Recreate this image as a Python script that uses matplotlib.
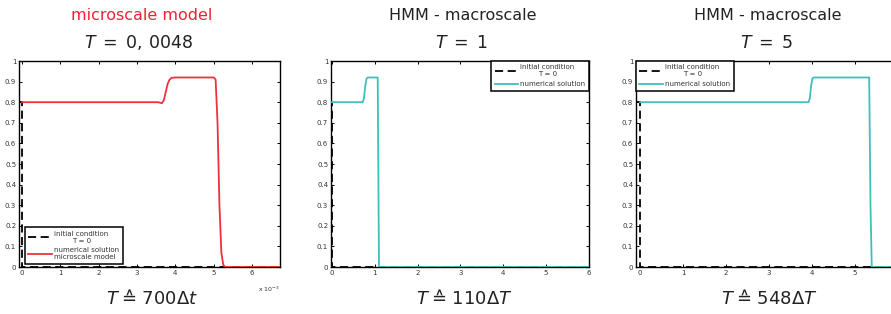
import matplotlib
matplotlib.use("Agg")
import matplotlib.pyplot as plt
from matplotlib.ticker import ScalarFormatter, FixedLocator

plt.rcParams['font.family'] = ['DejaVu Sans']
plt.rcParams['mathtext.fontset'] = 'dejavusans'

# ---------------- data ----------------
# Panel 1: microscale model (x in true units, ~1e-3)
init1_x = [-0.0001, 0.0, 0.0, 0.0068]
init1_y = [0.8, 0.8, 0.0, 0.0]
micro_x = [0.0, 0.00355, 0.00365, 0.0037, 0.00375, 0.0038, 0.00385, 0.0039, 0.0040,
           0.0050, 0.00505, 0.0051, 0.00515, 0.0052, 0.00525, 0.0053, 0.0068]
micro_y = [0.8, 0.8, 0.795, 0.81, 0.85, 0.89, 0.91, 0.918, 0.92,
           0.92, 0.91, 0.70, 0.30, 0.07, 0.01, 0.0, 0.0]

# Panel 2: HMM macroscale, T = 1
init2_x = [-0.1, 0.0, 0.0, 6.0]
init2_y = [0.8, 0.8, 0.0, 0.0]
hmm1_x = [0.0, 0.72, 0.75, 0.78, 0.81, 0.84, 1.07, 1.09, 1.10, 6.0]
hmm1_y = [0.8, 0.8, 0.82, 0.88, 0.915, 0.92, 0.92, 0.3, 0.0, 0.0]

# Panel 3: HMM macroscale, T = 5
init3_x = [-0.1, 0.0, 0.0, 6.0]
init3_y = [0.8, 0.8, 0.0, 0.0]
hmm5_x = [0.0, 3.92, 3.95, 3.98, 4.01, 4.04, 5.33, 5.36, 5.39, 6.0]
hmm5_y = [0.8, 0.8, 0.82, 0.88, 0.915, 0.92, 0.92, 0.3, 0.0, 0.0]

top_titles = ["microscale model", "HMM - macroscale", "HMM - macroscale"]
top_colors = ["#ee2233", "#222222", "#222222"]
time_titles = [r"$T\;=\;0,\,0048$", r"$T\;=\;1$", r"$T\;=\;5$"]
bottom_titles = [r"$T\;≙\;700\Delta t$", r"$T\;≙\;110\Delta T$", r"$T\;≙\;548\Delta T$"]
legend_labels = [["initial condition\nT = 0", "numerical solution\nmicroscale model"],
                 ["initial condition\nT = 0", "numerical solution"],
                 ["initial condition\nT = 0", "numerical solution"]]
xticks = [[0, 0.001, 0.002, 0.003, 0.004, 0.005, 0.006],
          [0, 1, 2, 3, 4, 5, 6],
          [0, 1, 2, 3, 4, 5]]
yticks = [0, 0.1, 0.2, 0.3, 0.4, 0.5, 0.6, 0.7, 0.8, 0.9, 1]
ytick_labels = ["0", "0.1", "0.2", "0.3", "0.4", "0.5", "0.6", "0.7", "0.8", "0.9", "1"]

RED = "#f0303c"
CYAN = "#3ec0bc"

W, H = 891, 314
fig = plt.figure(figsize=(W / 100, H / 100), dpi=100)

def fx(px):
    return px / W

def fy(py):
    return 1 - py / H

ax_bottom = fy(267)
ax_height = (267 - 61) / H
axes_specs = [
    (19, 261, (-0.00008, 0.00673)),
    (331, 258, (-0.02, 6.0)),
    (636, 262, (-0.093, 6.0)),
]

series = [
    (init1_x, init1_y, micro_x, micro_y, RED),
    (init2_x, init2_y, hmm1_x, hmm1_y, CYAN),
    (init3_x, init3_y, hmm5_x, hmm5_y, CYAN),
]
legend_locs = [("lower left", (0.023, 0.015)), ("upper right", (1.0, 1.0)), ("upper left", (0.0, 1.0))]

for i, ((left, width, xlim), (ix, iy, sx, sy, col)) in enumerate(zip(axes_specs, series)):
    ax = fig.add_axes([fx(left), ax_bottom, width / W, ax_height])
    l1, = ax.plot(ix, iy, color="black", lw=1.3, dashes=(4.5, 2.5), zorder=2)
    l2, = ax.plot(sx, sy, color=col, lw=1.3, zorder=3)
    ax.set_xlim(*xlim)
    ax.set_ylim(0, 1)
    ax.set_yticks(yticks)
    ax.set_yticklabels(ytick_labels)
    ax.xaxis.set_major_locator(FixedLocator(xticks[i]))
    if i == 0:
        fmt = ScalarFormatter(useMathText=False)
        fmt.set_powerlimits((-2, 2))
        ax.xaxis.set_major_formatter(fmt)
        ax.xaxis.get_offset_text().set_visible(False)
        ax.text(1.0, -0.085, r"x 10$^{-3}$", transform=ax.transAxes, ha="right", va="top",
                fontsize=4.5, color="#333333")
    ax.tick_params(direction="in", length=2.5, width=0.7, labelsize=5, labelcolor="#333333",
                   color="black", top=True, right=True, pad=2)
    for s in ax.spines.values():
        s.set_linewidth(1.0)
        s.set_color("black")

    loc, anchor = legend_locs[i]
    leg = ax.legend([l1, l2], legend_labels[i], loc=loc, bbox_to_anchor=anchor,
                    borderaxespad=0, fontsize=5.0, frameon=True, fancybox=False,
                    edgecolor="black", framealpha=1, handlelength=3.4, handletextpad=0.3,
                    labelspacing=0.55, borderpad=0.5)
    leg.get_frame().set_linewidth(1.1)
    for t in leg.get_texts():
        t.set_color("#333333")
    leg.get_texts()[0].set_multialignment("center")

    cx = left + 130
    fig.text(fx(cx - 7 if i == 0 else cx + 2), fy(16), top_titles[i], ha="center", va="center",
             fontsize=11.5, color=top_colors[i])
    fig.text(fx(cx - 10 if i == 0 else cx), fy(43), time_titles[i], ha="center", va="center",
             fontsize=12.5, color="#222222")
    fig.text(fx(cx + 3), fy(298), bottom_titles[i], ha="center", va="center",
             fontsize=13, color="#222222")

fig.savefig("out.png", dpi=100)
